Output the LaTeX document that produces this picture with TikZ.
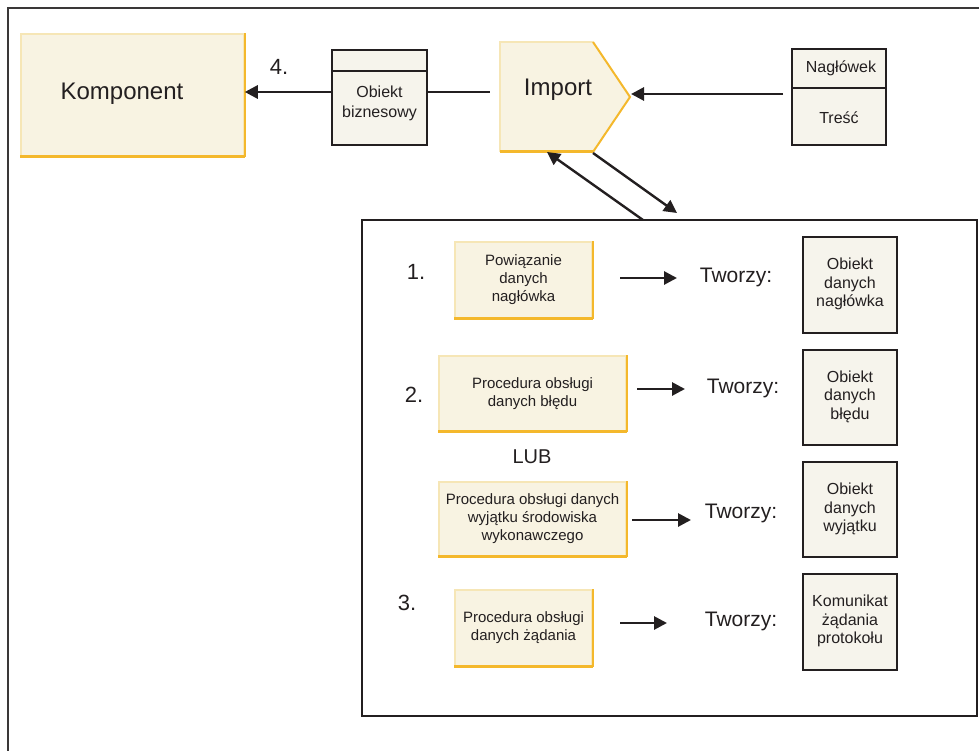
\documentclass[tikz,border=0pt]{standalone}
\usepackage{fontspec}
\setmainfont{Liberation Sans}
\usetikzlibrary{arrows.meta}
\definecolor{yfill}{HTML}{F8F3E2}
\definecolor{ylight}{HTML}{F6E6B6}
\definecolor{ygold}{HTML}{F4B82C}
\definecolor{gfill}{HTML}{F6F4EC}
\definecolor{ink}{HTML}{231F20}
\definecolor{frame}{HTML}{3A3838}
\begin{document}
\begin{tikzpicture}[x=1pt,y=-1pt,
  ybox/.style={draw=ylight, line width=1.5pt, fill=yfill, inner sep=0pt, align=center,
    font=\fontsize{15}{18}\selectfont, text=ink},
  gbox/.style={draw=ink, line width=1.6pt, fill=gfill, inner sep=0pt, align=center,
    font=\fontsize{16}{18.5}\selectfont, text=ink},
  goldedge/.style={draw=ygold, line width=2.6pt},
  arr/.style={draw=ink, line width=2.8pt, -{Triangle[length=13pt,width=13pt]}},
  plainline/.style={draw=ink, line width=2.6pt},
  lbl/.style={inner sep=0pt, text=ink},
  numlbl/.style={lbl, font=\fontsize{22}{24}\selectfont},
  tworzy/.style={lbl, font=\fontsize{21}{24}\selectfont},
]
\useasboundingbox (0,0) rectangle (979,751);
% outer frame (top and left edges)
\draw[frame, line width=2.5pt] (8,760) -- (8,8) -- (990,8);

% Komponent
\node[ybox, minimum width=223pt, minimum height=122pt] (komp) at (132.5,95) {};
\draw[goldedge, line width=2pt] (komp.north east) -- (komp.south east);
\draw[goldedge, line width=3pt] (komp.south west) -- (komp.south east);
\node[lbl, font=\fontsize{24}{28}\selectfont] (komptext) at (122,94) {Komponent};

% Obiekt biznesowy
\node[gbox, draw=ink, minimum width=95pt, minimum height=95pt] (bo) at (379.5,97.5) {};
\draw[draw=ink, line width=1.6pt] (bo.west |- 0,71) coordinate (bodl) -- (bo.east |- 0,71) coordinate (bodr);
\node[lbl, align=center, font=\fontsize{16}{20}\selectfont] (botext) at (379.5,103) {Obiekt\\biznesowy};

% Import pentagon
\coordinate (impnw) at (500,42);
\coordinate (impne) at (593,42);
\coordinate (imptip) at (630,97);
\coordinate (impse) at (593,152);
\coordinate (impsw) at (500,152);
\fill[yfill] (impnw) -- (impne) -- (imptip) -- (impse) -- (impsw) -- cycle;
\draw[ylight, line width=1.5pt] (impsw) -- (impnw) -- (impne);
\draw[goldedge, line width=2pt] (impne) -- (imptip) -- (impse);
\draw[goldedge, line width=3pt] (impse) -- (impsw);
\node[lbl, font=\fontsize{24}{28}\selectfont] (imp) at (558,90) {Import};

% Naglowek / Tresc
\node[gbox, minimum width=94pt, minimum height=96pt] (msg) at (839,97) {};
\draw[draw=ink, line width=1.6pt] (msg.west |- 0,88) -- (msg.east |- 0,88);
\node[lbl, font=\fontsize{16}{20}\selectfont] (nagl) at (841,68) {Nagłówek};
\node[lbl, font=\fontsize{16}{20}\selectfont] (tresc) at (839,118) {Treść};

% top connectors
\coordinate (msgtail) at (783,94);
\coordinate (imphead) at (631,94);
\draw[arr] (msgtail) -- (imphead);
\coordinate (implinestart) at (490,92);
\draw[plainline] (bo.east |- 0,92) -- (implinestart);
\draw[arr] (bo.west |- 0,92) -- (komp.east |- 0,92);
\node[numlbl] (n4) at (279,67) {4.};

% inner box
\node[draw=ink, line width=1.8pt, fill=none, minimum width=615pt, minimum height=496pt, inner sep=0pt] (inner) at (669.5,468) {};

% diagonal arrows
\coordinate (dAtail) at (643,220);
\coordinate (dAhead) at (547,152);
\coordinate (dBtail) at (593,153);
\coordinate (dBhead) at (677,213);
\draw[arr, line width=2.4pt] (dAtail) -- (dAhead);
\draw[arr, line width=2.4pt] (dBtail) -- (dBhead);

% Row 1
\node[numlbl] (n1) at (416,272) {1.};
\node[ybox, minimum width=137pt, minimum height=76pt] (y1) at (523.5,280) {Powiązanie\\danych\\nagłówka};
\draw[goldedge, line width=2pt] (y1.north east) -- (y1.south east);
\draw[goldedge] (y1.south west) -- (y1.south east);
\coordinate (a1s) at (620,278); \coordinate (a1e) at (677,278);
\draw[arr] (a1s) -- (a1e);
\node[tworzy] (t1) at (736,277) {Tworzy:};
\node[gbox, minimum width=94pt, minimum height=96pt] (g1) at (850,285) {};
\node[lbl, align=center, font=\fontsize{16}{18.5}\selectfont] (g1t) at (850,284) {Obiekt\\danych\\nagłówka};

% Row 2
\node[numlbl] (n2) at (414,395) {2.};
\node[ybox, minimum width=187pt, minimum height=75pt] (y2) at (532.5,393.5) {Procedura obsługi\\danych błędu};
\draw[goldedge, line width=2pt] (y2.north east) -- (y2.south east);
\draw[goldedge] (y2.south west) -- (y2.south east);
\coordinate (a2s) at (637,389); \coordinate (a2e) at (685,389);
\draw[arr] (a2s) -- (a2e);
\node[tworzy] (t2) at (743,388) {Tworzy:};
\node[gbox, minimum width=94pt, minimum height=95pt] (g2) at (850,397.5) {};
\node[lbl, align=center, font=\fontsize{16}{18.5}\selectfont] (g2t) at (850,396.5) {Obiekt\\danych\\błędu};

\node[lbl, font=\fontsize{20}{24}\selectfont] (lub) at (532,457) {LUB};

% Row 2b
\node[ybox, minimum width=187pt, minimum height=74pt] (y3) at (532.5,519) {Procedura obsługi danych\\wyjątku środowiska\\wykonawczego};
\draw[goldedge, line width=2pt] (y3.north east) -- (y3.south east);
\draw[goldedge] (y3.south west) -- (y3.south east);
\coordinate (a3s) at (632,520); \coordinate (a3e) at (691,520);
\draw[arr] (a3s) -- (a3e);
\node[tworzy] (t3) at (741,513) {Tworzy:};
\node[gbox, minimum width=94pt, minimum height=95pt] (g3) at (850,509.5) {};
\node[lbl, align=center, font=\fontsize{16}{18.5}\selectfont] (g3t) at (850,509) {Obiekt\\danych\\wyjątku};

% Row 3
\node[numlbl] (n3) at (407,603) {3.};
\node[ybox, minimum width=137pt, minimum height=76pt] (y4) at (523.5,628) {Procedura obsługi\\danych żądania};
\draw[goldedge, line width=2pt] (y4.north east) -- (y4.south east);
\draw[goldedge] (y4.south west) -- (y4.south east);
\coordinate (a4s) at (620,623); \coordinate (a4e) at (667,623);
\draw[arr] (a4s) -- (a4e);
\node[tworzy] (t4) at (741,621) {Tworzy:};
\node[gbox, minimum width=94pt, minimum height=96pt] (g4) at (850,622) {};
\node[lbl, align=center, font=\fontsize{16}{18.5}\selectfont] (g4t) at (850,621) {Komunikat\\żądania\\protokołu};
\end{tikzpicture}
\end{document}
